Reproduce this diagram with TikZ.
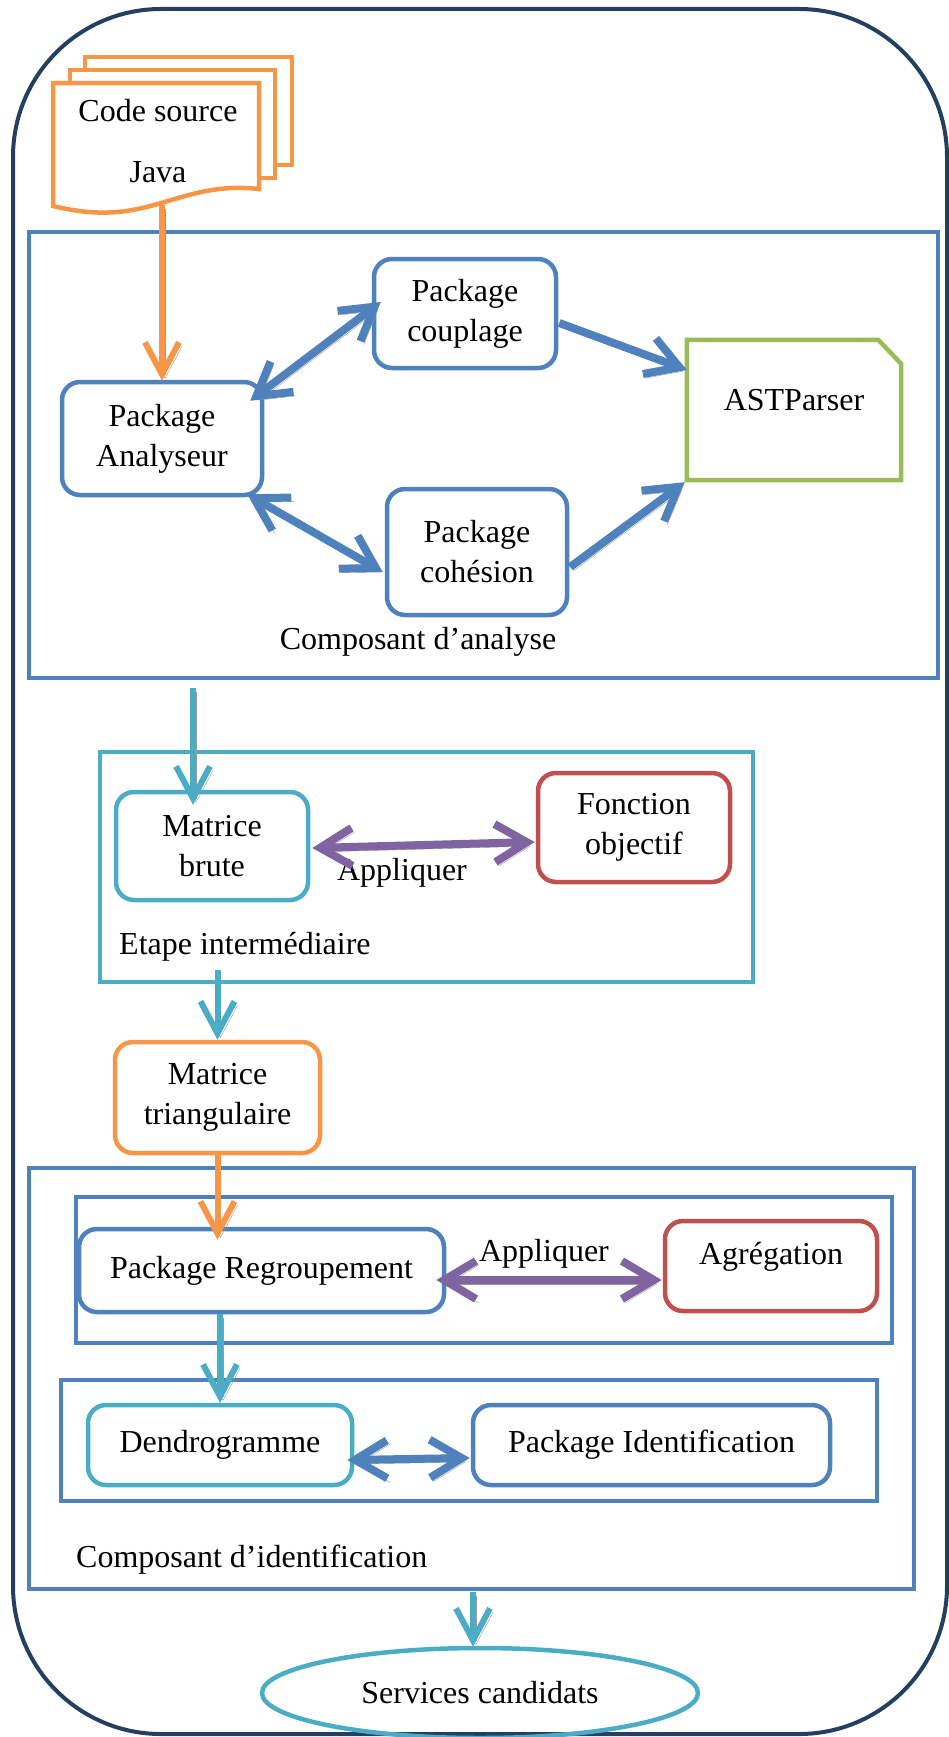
\documentclass[tikz,border=0pt]{standalone}
\usepackage{fontspec}
\setmainfont{Liberation Serif}
\usetikzlibrary{arrows.meta,calc,shapes.geometric}

\definecolor{navy}{HTML}{243F60}
\definecolor{ablue}{HTML}{4F81BD}
\definecolor{ateal}{HTML}{4BACC6}
\definecolor{aorange}{HTML}{F79646}
\definecolor{ared}{HTML}{C0504D}
\definecolor{agreen}{HTML}{9BBB59}
\definecolor{apurple}{HTML}{8064A2}

\tikzset{
  txt/.style={font=\fontsize{32}{40}\selectfont},
  lbl/.style={txt, inner sep=0pt},
  box/.style={draw, line width=4.5pt, rounded corners=18pt, align=center, txt, inner sep=0pt},
  panel/.style={draw, line width=4.5pt, inner sep=0pt},
  sheet/.style={draw=aorange, line width=4.5pt},
  cast/.style={preaction={draw=black!40, transform canvas={shift={(3,4)}}}},
  flow/.style={line width=6pt, -{Straight Barb[length=32pt,width=34pt]}, cast},
  link/.style={line width=8pt, -{Straight Barb[length=32pt,width=38pt]}, cast},
  biflow/.style={line width=8pt, {Straight Barb[length=32pt,width=38pt]}-{Straight Barb[length=32pt,width=38pt]}, cast},
}

\begin{document}
\begin{tikzpicture}[x=1pt,y=-1pt]
\useasboundingbox (0,0) rectangle (948,1737);

% outer rounded border
\node[draw=navy, line width=4pt, rounded corners=148pt, minimum width=934pt, minimum height=1725pt, inner sep=0pt] (outer) at (480,871.5) {};

% stacked source documents
\node[inner sep=0pt, minimum width=206pt, minimum height=125pt] (doc) at (156,145.5) {};
\draw[sheet] (85,70) -- (85,57) -- (292,57) -- (292,165) -- (275,165);
\draw[sheet] (70,83) -- (70,70) -- (275,70) -- (275,178) -- (259,178);
\draw[sheet] (53,206) -- (53,83) -- (259,83) -- (259,189) .. controls (175,180) and (150,230) .. (53,206) -- cycle;
\node[lbl] (docl1) at (158,111) {Code source};
\node[lbl] (docl2) at (158,172) {Java};

% analysis component
\node[panel, draw=ablue, minimum width=909pt, minimum height=446pt] (fA) at (483.5,455) {};
\node[box, draw=ablue, minimum width=200pt, minimum height=113pt] (ana) at (162,438.5) {Package\\Analyseur};
\node[box, draw=ablue, minimum width=182pt, minimum height=109pt] (coup) at (465,313.5) {Package\\couplage};
\node[box, draw=ablue, minimum width=180pt, minimum height=126pt] (coh) at (477,552) {Package\\cohésion};
\node[inner sep=0pt, minimum width=214pt, minimum height=140pt] (ast) at (794,410) {};
\draw[agreen, line width=4.5pt] (ast.south west) -- (ast.north west) -- ([xshift=-23pt]ast.north east) -- ([yshift=-24pt]ast.north east) -- (ast.south east) -- cycle;
\node[lbl] (astl) at (794,400) {ASTParser};
\node[lbl] (lA) at (418,642) {Composant d’analyse};

% intermediate step
\node[panel, draw=ateal, minimum width=653pt, minimum height=230pt] (fB) at (426.5,867) {};
\node[box, draw=ateal, minimum width=192pt, minimum height=108pt] (brute) at (212,846) {Matrice\\brute};
\node[box, draw=ared, minimum width=192pt, minimum height=109pt] (fonc) at (634,827.5) {Fonction\\objectif};
\node[lbl] (app1) at (402,873) {Appliquer};
\node[lbl, anchor=west] (lB) at (119,947) {Etape intermédiaire};

\node[box, draw=aorange, minimum width=205pt, minimum height=111pt] (tri) at (217.5,1097.5) {Matrice\\triangulaire};

% identification component
\node[panel, draw=ablue, minimum width=885pt, minimum height=421pt] (fC) at (471.5,1378.5) {};
\node[panel, draw=ablue, minimum width=816pt, minimum height=146pt] (fC1) at (484,1270) {};
\node[panel, draw=ablue, minimum width=816pt, minimum height=121pt] (fC2) at (469,1440.5) {};
\node[box, draw=ablue, minimum width=365pt, minimum height=83pt] (regr) at (261.5,1270.5) {Package Regroupement};
\node[box, draw=ared, minimum width=212pt, minimum height=90pt] (agr) at (771,1266) {};
\node[lbl] (agrl) at (771,1257) {Agrégation};
\node[lbl] (app2) at (544,1254) {Appliquer};
\node[box, draw=ateal, minimum width=264pt, minimum height=80pt] (dendro) at (220,1445) {Dendrogramme};
\node[box, draw=ablue, minimum width=357pt, minimum height=80pt] (ident) at (651.5,1445) {Package Identification};
\node[lbl, anchor=west] (lC) at (76,1560) {Composant d’identification};

\node[draw=ateal, line width=4.5pt, ellipse, minimum width=436pt, minimum height=90pt, inner sep=0pt, txt] (svc) at (480,1693) {Services candidats};

% connectors
\draw[flow, aorange] ($(ana.north |- doc.south)+(0,-3)$) -- ($(ana.north)+(0,1)$);
\draw[biflow, ablue] ($(ana.north east)+(-14,21)$) -- ($(coup.west)+(9,-11.5)$);
\draw[biflow, ablue] ($(ana.south east)+(-17,-3)$) -- ($(coh.west)+(-2,20)$);
\draw[link, ablue] ($(coup.east)+(1,9.5)$) -- ($(ast.west)+(0,-40)$);
\draw[link, ablue] ($(coh.east)+(1,15)$) -- ($(ast.south west)+(-2,2)$);

\draw[flow, ateal] ($(fA.south -| brute.north)+(-19,8)$) -- ($(brute.north)+(-19,15)$);
\draw[biflow, apurple] ($(brute.east)+(2,2)$) -- ($(fonc.west)+(-1,14.5)$);
\draw[flow, ateal] ($(fB.south -| tri.north)+(0,-14)$) -- (tri.north);
\draw[flow, aorange] (tri.south) -- ($(tri.south |- regr.north)+(0,13)$);
\draw[biflow, apurple] ($(regr.east)+(-10,9.5)$) -- ($(agr.west)+(-1,14)$);
\draw[flow, ateal] (regr.south -| dendro.north) -- (dendro.north);
\draw[biflow, ablue] ($(dendro.east)+(-7,15)$) -- ($(ident.west)+(-1,13)$);
\draw[flow, ateal] ($(fC.south -| svc.north)+(-7,1)$) -- ($(svc.north)+(-7,1)$);
\end{tikzpicture}
\end{document}
